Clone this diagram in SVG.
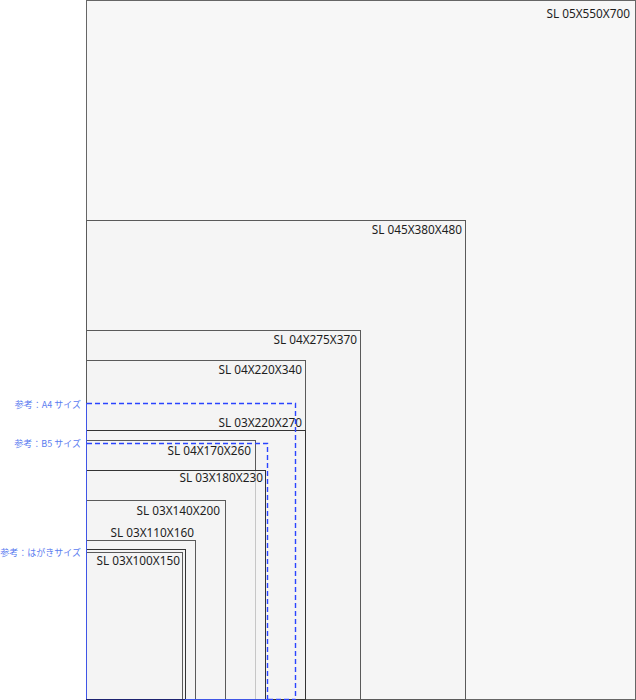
<svg xmlns="http://www.w3.org/2000/svg" width="636" height="700" viewBox="0 0 636 700">
<style>
.box{fill:#f3f3f3;fill-opacity:.7;stroke:#5a5a5a;stroke-width:1}
.dk{stroke:#333}
.lbl{font-family:"Noto Sans","Open Sans",sans-serif;font-size:11.8px;fill:#1e1e1e;text-anchor:end}
.ref{font-family:"Noto Sans CJK JP","Noto Sans",sans-serif;font-size:9px;fill:#5b7cf0;text-anchor:end}
.dash{fill:none;stroke:#2a44ff;stroke-width:1.4;stroke-dasharray:5 3}
</style>
<rect width="636" height="700" fill="#ffffff"/>
<g id="sl-05x550x700"><rect x="86.5" y="0.5" width="549" height="699" fill="#f7f7f7" stroke="#666" stroke-width="1"/><text class="lbl" x="630" y="18">SL 05X550X700</text></g>
<g id="sl-045x380x480"><rect class="box" x="86.5" y="220.5" width="379" height="479"/><text class="lbl" x="462" y="234">SL 045X380X480</text></g>
<g id="sl-04x275x370"><rect class="box" x="86.5" y="330.5" width="274" height="369"/><text class="lbl" x="357" y="344">SL 04X275X370</text></g>
<g id="sl-04x220x340"><rect class="box" x="86.5" y="360.5" width="219" height="339"/><text class="lbl" x="302" y="374">SL 04X220X340</text></g>
<g id="sl-03x220x270"><rect class="box dk" x="86.5" y="430.5" width="219" height="269"/><text class="lbl" x="302" y="427">SL 03X220X270</text></g>
<g id="sl-04x170x260"><rect class="box" x="86.5" y="440.5" width="169" height="259"/><text class="lbl" x="251" y="455">SL 04X170X260</text></g>
<g id="sl-03x180x230"><rect class="box dk" x="86.5" y="470.5" width="179" height="229"/><text class="lbl" x="263" y="482">SL 03X180X230</text></g>
<g id="sl-03x140x200"><rect class="box" x="86.5" y="500.5" width="139" height="199"/><text class="lbl" x="220" y="515">SL 03X140X200</text></g>
<g id="sl-03x110x160"><rect class="box" x="86.5" y="540.5" width="109" height="159"/><text class="lbl" x="194" y="537">SL 03X110X160</text></g>
<g id="sl-03x100x150"><rect class="box dk" x="86.5" y="549.5" width="99" height="150"/><rect class="box" x="86.5" y="552.5" width="96" height="147"/><text class="lbl" x="180" y="565">SL 03X100X150</text></g>
<g id="ref-a4"><path class="dash" d="M87 403.5 H295.5 V699.5 M268 699.5 H295.5"/><text class="ref" x="81" y="407.5">参考：A4 サイズ</text></g>
<g id="ref-b5"><path class="dash" d="M87 443.5 H267.5 V699.5"/><text class="ref" x="81" y="446.5">参考：B5 サイズ</text></g>
<g id="ref-hagaki"><text class="ref" x="81" y="555.5">参考：はがきサイズ</text></g>
<g id="edges">
<line x1="86.5" y1="403" x2="86.5" y2="700" stroke="#3f55e6" stroke-width="1"/>
<line x1="185" y1="699.5" x2="268" y2="699.5" stroke="#3f55e6" stroke-width="1"/>
<line x1="86" y1="699.5" x2="185" y2="699.5" stroke="#1c2270" stroke-width="1"/>
</g>
</svg>
